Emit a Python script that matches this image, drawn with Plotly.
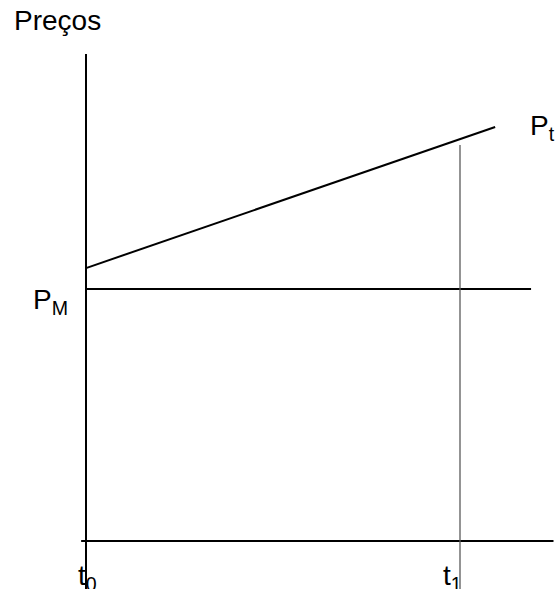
import plotly.graph_objects as go

# ---- data ----
time_points = [0.0, 1.0]                 # t0, t1
time_labels = ["t<sub>0</sub>", "t<sub>1</sub>"]
pt_time = [0.0, 1.094]                   # P_t line, start/end in time units
pt_price = [1.083, 1.643]
pm_price = 1.0                           # P_M level
pm_time = [0.0, 1.19]
axis_time_extent = [-0.013, 1.25]
axis_price_extent = [-0.19, 1.933]
t1_line_top = 1.571
price_labels = ["P<sub>t</sub>", "P<sub>M</sub>"]
y_title = "Preços"

W, H = 556, 589
FONT = "Liberation Sans, Arial, sans-serif"

fig = go.Figure()

def seg(x, y, color="black", width=2):
    fig.add_trace(go.Scatter(x=x, y=y, mode="lines",
                             line=dict(color=color, width=width),
                             hoverinfo="skip", showlegend=False))

# axes
seg([0, 0], axis_price_extent)
seg(axis_time_extent, [0, 0])
# P_M horizontal
seg(pm_time, [pm_price, pm_price])
# P_t rising line
seg(pt_time, pt_price)
# t1 vertical guide
seg([time_points[1], time_points[1]], [axis_price_extent[0], t1_line_top],
    color="#5a5a5a", width=1.3)

fsize = 28
font = dict(family=FONT, size=fsize, color="black")

# labels
fig.add_annotation(x=pt_time[-1], y=pt_price[-1], xref="x", yref="y",
                   text=price_labels[0], showarrow=False, xanchor="left",
                   yanchor="middle", xshift=33, yshift=-1, font=font)
fig.add_annotation(x=0, y=pm_price, xref="x", yref="y",
                   text=price_labels[1], showarrow=False, xanchor="right",
                   yanchor="middle", xshift=-16, yshift=-12, font=font)
for tv, tl, dx in zip(time_points, time_labels, [1, -8]):
    fig.add_annotation(x=tv, y=0, xref="x", yref="y", text=tl, showarrow=False,
                       xanchor="center", yanchor="top", xshift=dx, yshift=-17,
                       font=font)
fig.add_annotation(x=12 / W, y=1 - 3 / H, xref="paper", yref="paper",
                   text=y_title, showarrow=False, xanchor="left", yanchor="top",
                   font=font)

fig.update_xaxes(range=[-86 / 374, 470 / 374], visible=False, fixedrange=True)
fig.update_yaxes(range=[-48 / 252, 541 / 252], visible=False, fixedrange=True)
fig.update_layout(width=W, height=H, margin=dict(l=0, r=0, t=0, b=0),
                  paper_bgcolor="white", plot_bgcolor="white")

fig.write_html("out.html", config={"displayModeBar": False},
               post_script="document.body.style.margin='0';"
                           "document.body.style.overflow='hidden';")
